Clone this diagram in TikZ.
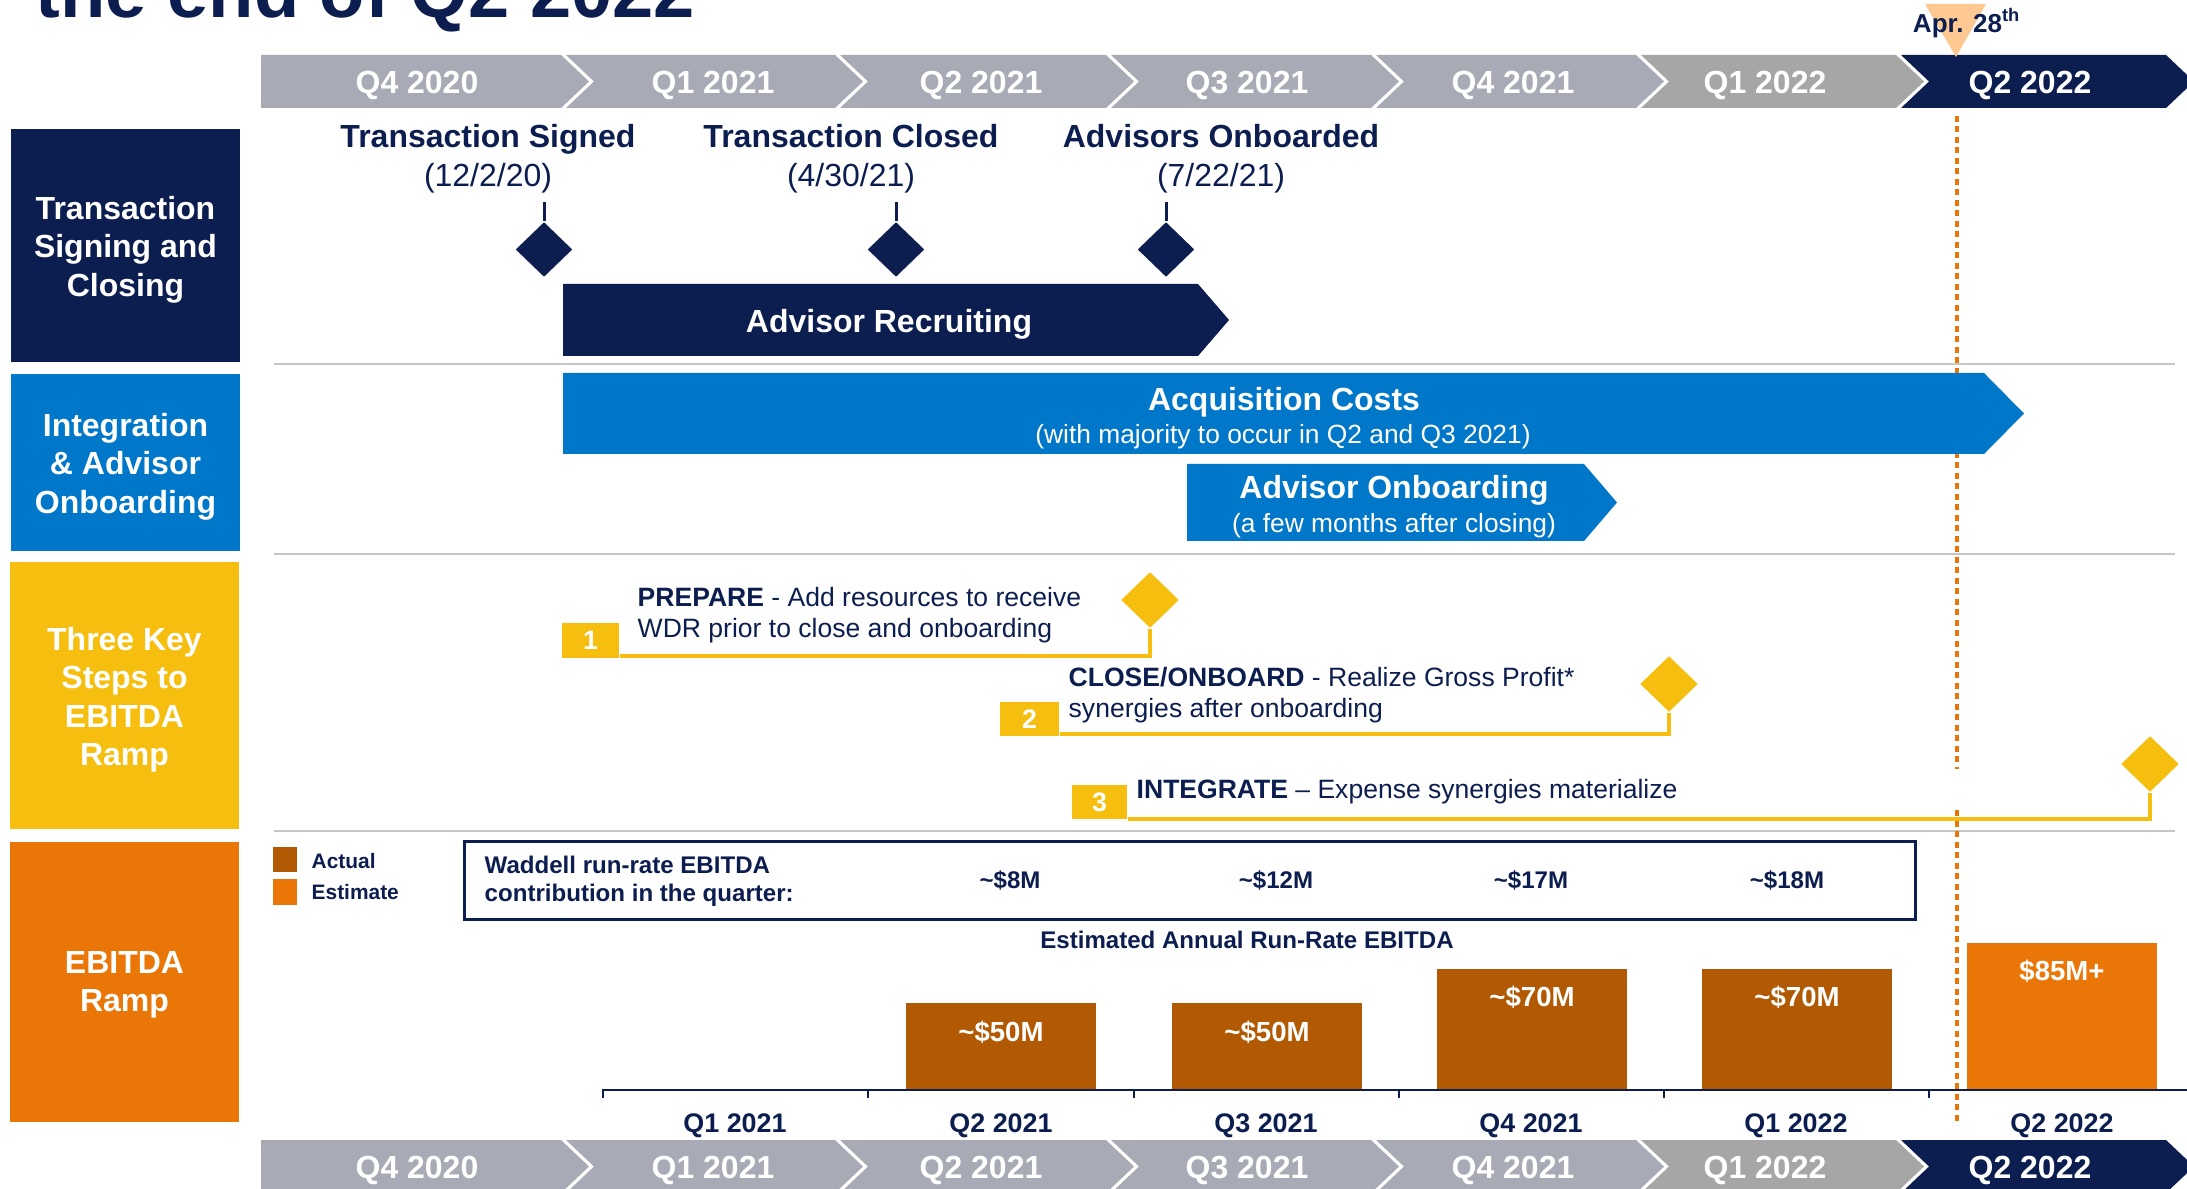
\documentclass[tikz,border=0pt]{standalone}
\usepackage{fontspec}
\setmainfont{Liberation Sans}
\usetikzlibrary{shapes.geometric}
\definecolor{wnavy}{HTML}{0C1D4F}
\definecolor{wblue}{HTML}{0077C8}
\definecolor{wyellow}{HTML}{F6BE0F}
\definecolor{worange}{HTML}{EA7607}
\definecolor{wbrown}{HTML}{B15A03}
\definecolor{wgrey}{HTML}{A8AAB5}
\definecolor{wgreyb}{HTML}{A6A6A6}
\definecolor{wpeach}{HTML}{FDC892}
\definecolor{wline}{HTML}{C6C6C6}
\newcommand\wfs[2]{\fontsize{#1}{#2}\selectfont}
\newcommand\qchev[4]{\fill[#1] (#2,#4)--(#3,#4)--(#3+28,#4+26.5)--(#3,#4+53)--(#2,#4+53)--(#2+28,#4+26.5)--cycle;}

\begin{document}
\begin{tikzpicture}[x=0.1mm,y=-0.1mm]%
        \useasboundingbox (0,0) rectangle (2187,1189); %%
        \node[anchor=base west,inner sep=0,text=wnavy,font=\bfseries\wfs{21.1}{25}] (ttl) at (35,18) {the end of Q2 2022}; %%
        % quarter bars, top and bottom
        \fill[wgrey] (261,55)--(561,55)--(589,81.5)--(561,108)--(261,108)--cycle; %%
        \qchev{wgrey}{566}{835}{55} %%
        \qchev{wgrey}{840}{1106}{55} %%
        \qchev{wgrey}{1111}{1371}{55} %%
        \qchev{wgrey}{1376}{1636}{55} %%
        \qchev{wgreyb}{1641}{1896}{55} %%
        \qchev{wnavy}{1901}{2166}{55} %%
        \fill[wgrey] (261,1140)--(561,1140)--(589,1166.5)--(561,1193)--(261,1193)--cycle; %%
        \qchev{wgrey}{566}{835}{1140} %%
        \qchev{wgrey}{840}{1106}{1140} %%
        \qchev{wgrey}{1111}{1371}{1140} %%
        \qchev{wgrey}{1376}{1636}{1140} %%
        \qchev{wgreyb}{1641}{1896}{1140} %%
        \qchev{wnavy}{1901}{2166}{1140} %%
        \begin{scope}
        \tikzstyle{every node}=[text=white,font=\bfseries\wfs{9.1}{11}] %%
        \node (qa1) at (417,85) {Q4 2020}; %%
        \node (qa2) at (713,85) {Q1 2021}; %%
        \node (qa3) at (981,85) {Q2 2021}; %%
        \node (qa4) at (1247,85) {Q3 2021}; %%
        \node (qa5) at (1513,85) {Q4 2021}; %%
        \node (qa6) at (1765,85) {Q1 2022}; %%
        \node (qa7) at (2030,85) {Q2 2022}; %%
        \node (qb1) at (417,1170) {Q4 2020}; %%
        \node (qb2) at (713,1170) {Q1 2021}; %%
        \node (qb3) at (981,1170) {Q2 2021}; %%
        \node (qb4) at (1247,1170) {Q3 2021}; %%
        \node (qb5) at (1513,1170) {Q4 2021}; %%
        \node (qb6) at (1765,1170) {Q1 2022}; %%
        \node (qb7) at (2030,1170) {Q2 2022}; %%
        \end{scope}
        % row headers
        \begin{scope}[shape=rectangle]
        \tikzstyle{every node}=[minimum width=22.9mm] %%
        \node[fill=wnavy,minimum height=23.3mm] (hd1) at (125.5,245.5) {}; %%
        \node[fill=wblue,minimum height=17.7mm] (hd2) at (125.5,462.5) {}; %%
        \node[fill=wyellow,minimum height=26.7mm] (hd3) at (124.5,695.5) {}; %%
        \node[fill=worange,minimum height=28mm] (hd4) at (124.5,982) {}; %%
        \end{scope}
        \begin{scope}[align=center]
        \tikzstyle{every node}=[text=white,font=\bfseries\wfs{9.1}{10.95}] %%
        \node (hl1) at ([yshift=-0.4mm]hd1.center) {Transaction\\Signing and\\Closing}; %%
        \node (hl2) at ([yshift=-0.4mm]hd2.center) {Integration\\\& Advisor\\Onboarding}; %%
        \node (hl3) at ([yshift=-0.4mm]hd3.center) {Three Key\\Steps to\\EBITDA\\Ramp}; %%
        \node (hl4) at ([yshift=-0.3mm]hd4.center) {EBITDA\\Ramp}; %%
        \end{scope}
        \draw[wline,line width=0.2mm] (274,364)--(2175,364); %%
        \draw[wline,line width=0.2mm] (274,554)--(2175,554); %%
        \draw[wline,line width=0.2mm] (274,831)--(2175,831); %%
        % today marker
        \coordinate (tk1) at (1957,116); %%
        \coordinate (tk2) at (1957,769); %%
        \coordinate (tk3) at (1957,810); %%
        \coordinate (tk4) at (1957,1125); %%
        \draw[worange,line width=0.45mm,dash pattern=on 0.6mm off 0.45mm] (tk1)--(tk2); %%
        \draw[worange,line width=0.45mm,dash pattern=on 0.6mm off 0.45mm] (tk3)--(tk4); %%
        \fill[wpeach] (1925,4)--(1986,4)--(1956,57)--cycle; %%
        \node[text=wnavy,font=\bfseries\wfs{7.4}{9}] (apr) at (1967,23) {Apr. 28\textsuperscript{th}}; %%
        % milestones
        \begin{scope}[align=center]
        \tikzstyle{every node}=[text=wnavy,font=\wfs{9.1}{11.1}] %%
        \node (ms1) at (488,159) {\textbf{Transaction Signed}\\(12/2/20)}; %%
        \node (ms2) at (851,159) {\textbf{Transaction Closed}\\(4/30/21)}; %%
        \node (ms3) at (1221,159) {\textbf{Advisors Onboarded}\\(7/22/21)}; %%
        \end{scope}
        \begin{scope}[shape=diamond,inner sep=0]
        \tikzstyle{every node}=[fill=wnavy,minimum width=5.7mm,minimum height=5.5mm] %%
        \node (dm1) at (544,249.5) {}; %%
        \node (dm2) at (896,249.5) {}; %%
        \node (dm3) at (1166,249.5) {}; %%
        \end{scope}
        \coordinate (sm1) at (544,202); %%
        \coordinate (sm2) at (896,202); %%
        \coordinate (sm3) at (1166,202); %%
        \draw[wnavy,line width=0.3mm] (sm1)--(dm1.north); %%
        \draw[wnavy,line width=0.3mm] (sm2)--(dm2.north); %%
        \draw[wnavy,line width=0.3mm] (sm3)--(dm3.north); %%
        % phase arrows
        \fill[wnavy] (563,284)--(1198,284)--(1229,320)--(1198,356)--(563,356)--cycle; %%
        \fill[wblue] (563,373)--(1984,373)--(2024,413.5)--(1984,454)--(563,454)--cycle; %%
        \fill[wblue] (1187,464)--(1584,464)--(1617,502.5)--(1584,541)--(1187,541)--cycle; %%
        \begin{scope}
        \tikzstyle{every node}=[text=white,font=\bfseries\wfs{9.1}{11}] %%
        \node (rec) at (889,324.5) {Advisor Recruiting}; %%
        \node (acq) at (1284,402.5) {Acquisition Costs}; %%
        \node (onb) at (1394,490.5) {Advisor Onboarding}; %%
        \node[font=\wfs{7.5}{9}] (acqs) at (1283,436.5) {(with majority to occur in Q2 and Q3 2021)}; %%
        \node[font=\wfs{7.5}{9}] (onbs) at (1394,526) {(a few months after closing)}; %%
        \end{scope}
        % three steps
        \begin{scope}[shape=rectangle,inner sep=0]
        \tikzstyle{every node}=[fill=wyellow,text=white,font=\bfseries\wfs{7.6}{9}] %%
        \node[minimum width=5.7mm,minimum height=3.5mm] (nb1) at (590.5,640.5) {1}; %%
        \node[minimum width=5.9mm,minimum height=3.4mm] (nb2) at (1029.5,719) {2}; %%
        \node[minimum width=5.5mm,minimum height=3.4mm] (nb3) at (1099.5,802) {3}; %%
        \end{scope}
        \begin{scope}[shape=diamond,inner sep=0]
        \tikzstyle{every node}=[fill=wyellow,minimum width=5.8mm,minimum height=5.6mm] %%
        \node (yd1) at (1150,600) {}; %%
        \node (yd2) at (1669,684) {}; %%
        \node (yd3) at (2150,764) {}; %%
        \end{scope}
        \draw[wyellow,line width=0.4mm] ([yshift=0.3mm]nb1.south east) -| (yd1.south); %%
        \draw[wyellow,line width=0.4mm] ([yshift=0.3mm]nb2.south east) -| (yd2.south); %%
        \draw[wyellow,line width=0.4mm] ([yshift=0.1mm]nb3.south east) -| (yd3.south); %%
        \begin{scope}[align=left]
        \tikzstyle{every node}=[anchor=west,inner sep=0,text=wnavy,font=\wfs{7.55}{8.8}] %%
        \node (st1) at (637,615.5) {\textbf{PREPARE} - Add resources to receive\\WDR prior to close and onboarding}; %%
        \node (st2) at (1068,695.5) {\textbf{CLOSE/ONBOARD} - Realize Gross Profit*\\synergies after onboarding}; %%
        \node (st3) at (1136,792) {\textbf{INTEGRATE} – Expense synergies materialize}; %%
        \end{scope}
        % ebitda ramp
        \node[fill=wbrown,inner sep=0,minimum width=2.4mm,minimum height=2.5mm] (lg1) at (285,859.5) {}; %%
        \node[fill=worange,inner sep=0,minimum width=2.4mm,minimum height=2.6mm] (lg2) at (285,892) {}; %%
        \node[draw=wnavy,line width=0.3mm,minimum width=145.1mm,minimum height=7.8mm] (wbox) at (1189.5,880) {}; %%
        \begin{scope}
        \tikzstyle{every node}=[text=wnavy,font=\bfseries\wfs{6.85}{8}] %%
        \node[anchor=west,inner sep=0,font=\bfseries\wfs{5.95}{7}] (lgt1) at (311,861) {Actual}; %%
        \node[anchor=west,inner sep=0,font=\bfseries\wfs{5.95}{7}] (lgt2) at (311,892) {Estimate}; %%
        \node[anchor=west,inner sep=0,align=left] (wtxt) at (484,881) {Waddell run-rate EBITDA\\contribution in the quarter:}; %%
        \node (v1) at (1010,880.5) {\textasciitilde\$8M}; %%
        \node (v2) at (1276,880.5) {\textasciitilde\$12M}; %%
        \node (v3) at (1531,880.5) {\textasciitilde\$17M}; %%
        \node (v4) at (1787,880.5) {\textasciitilde\$18M}; %%
        \node (est) at (1247,940) {Estimated Annual Run-Rate EBITDA}; %%
        \end{scope}
        \fill[wbrown] (906,1003) rectangle (1096,1090); %%
        \fill[wbrown] (1172,1003) rectangle (1362,1090); %%
        \fill[wbrown] (1437,969) rectangle (1627,1090); %%
        \fill[wbrown] (1702,969) rectangle (1892,1090); %%
        \fill[worange] (1967,943) rectangle (2157,1090); %%
        \draw[wnavy,line width=0.25mm] (603,1098)--(603,1090)--(2187,1090); %%
        \draw[wnavy,line width=0.2mm] (868,1090)--(868,1098); %%
        \draw[wnavy,line width=0.2mm] (1134,1090)--(1134,1098); %%
        \draw[wnavy,line width=0.2mm] (1399,1090)--(1399,1098); %%
        \draw[wnavy,line width=0.2mm] (1664,1090)--(1664,1098); %%
        \draw[wnavy,line width=0.2mm] (1929,1090)--(1929,1098); %%
        \begin{scope}
        \tikzstyle{every node}=[text=white,font=\bfseries\wfs{7.85}{9}] %%
        \node (bl2) at (1001,1032) {\textasciitilde\$50M}; %%
        \node (bl3) at (1267,1032) {\textasciitilde\$50M}; %%
        \node (bl4) at (1532,997) {\textasciitilde\$70M}; %%
        \node (bl5) at (1797,997) {\textasciitilde\$70M}; %%
        \node (bl6) at (2062,971) {\$85M+}; %%
        \end{scope}
        \begin{scope}
        \tikzstyle{every node}=[text=wnavy,font=\bfseries\wfs{7.65}{9}] %%
        \node (ax1) at (735,1125.5) {Q1 2021}; %%
        \node (ax2) at (1001,1125.5) {Q2 2021}; %%
        \node (ax3) at (1266,1125.5) {Q3 2021}; %%
        \node (ax4) at (1531,1125.5) {Q4 2021}; %%
        \node (ax5) at (1796,1125.5) {Q1 2022}; %%
        \node (ax6) at (2062,1125.5) {Q2 2022}; %%
        \end{scope}
\end{tikzpicture}
\end{document}
